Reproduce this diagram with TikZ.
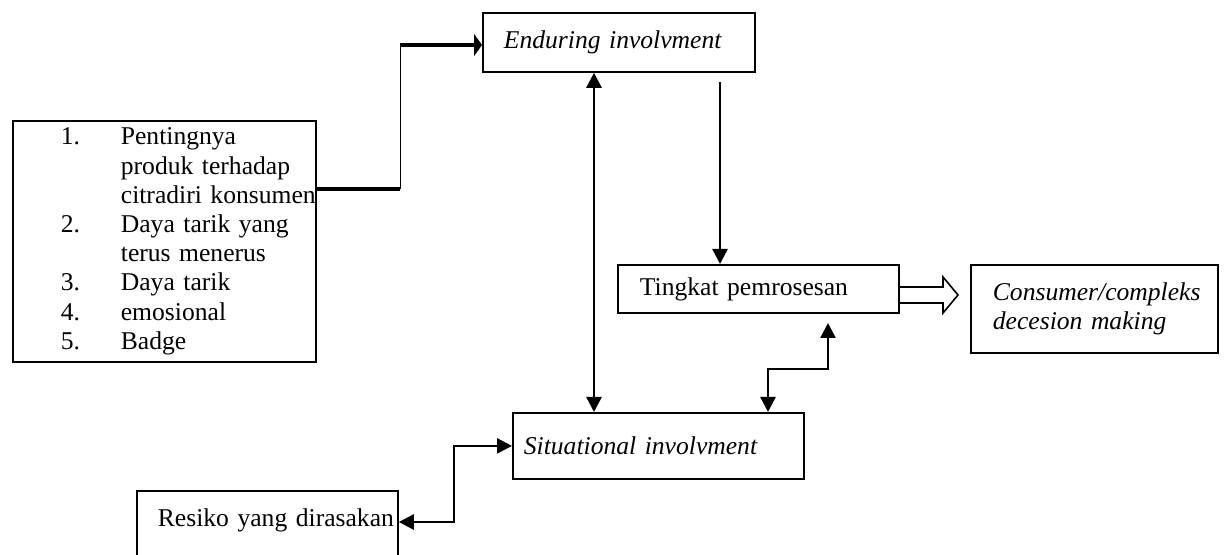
\documentclass[tikz,border=0pt]{standalone}
\usepackage{fontspec}
\setmainfont{Liberation Serif}
\usetikzlibrary{arrows.meta}
\newcommand{\boxfont}{\fontsize{12.8pt}{14.6pt}\selectfont}
\newcommand{\listno}[1]{\hspace*{24pt}\makebox[30pt][l]{#1}}

\begin{document}
\begin{tikzpicture}[x=0.5pt,y=-0.5pt,
	>={Triangle[length=7.5pt,width=7.5pt]},
	box/.style={draw, line width=0.9pt, anchor=north west, align=left, font=\boxfont},
	ibox/.style={box, font=\boxfont\itshape},
	arr/.style={line width=1.2pt}]
	\useasboundingbox (0,0) rectangle (1231,555);
	\node[box, text width=151.5pt, minimum height=120.5pt, inner xsep=0pt, inner ysep=3.5pt] (Faktor) at (12,120)
		{\listno{1.}Pentingnya\\ \listno{}produk terhadap\\ \listno{}citradiri konsumen\\
		 \listno{2.}Daya tarik yang\\ \listno{}terus menerus\\ \listno{3.}Daya tarik\\
		 \listno{4.}emosional\\ \listno{5.}Badge};
	\node[ibox, text width=115pt, minimum height=29.5pt, inner xsep=10.5pt] (Endur) at (482,12) {\mbox{Enduring involvment}};
	\node[box, text width=118.5pt, minimum height=24pt, inner xsep=11pt] (Tingkat) at (617,264) {\mbox{Tingkat pemrosesan}};
	\node[ibox, text width=101.5pt, minimum height=44pt, inner xsep=11pt] (Consumer) at (970,264) {\mbox{Consumer/compleks}\\\mbox{decesion making}};
	\node[ibox, text width=134.5pt, minimum height=33pt, inner xsep=5.5pt] (Situ) at (512,412) {\mbox{Situational involvment}};
	\node[box, text width=109.5pt, inner xsep=10.5pt, inner ysep=8.75pt, text depth=30pt] (Resiko) at (136,490) {\mbox{Resiko yang dirasakan}};

	\coordinate (bendA) at (400,189);
	\coordinate (bendB) at (400,45);
	\draw [line width=2pt] (bendA -| Faktor.east) -- (bendA);
	\draw [line width=0.5pt] (bendA) -- (bendB);
	\draw [line width=2pt, -{Triangle[length=4pt,width=11pt]}] (bendB) -- (bendB -| Endur.west);

	\coordinate (vLine) at (594,0);
	\draw [arr, <->] (vLine |- Endur.south) -- (vLine |- Situ.north);
	\coordinate (dTop) at (720,82);
	\draw [arr, ->] (dTop) -- (dTop |- Tingkat.north);

	\draw [line width=0.8pt] (Tingkat.east |- 0,287) -- (943,287) -- (943,277) -- (958,295)
		-- (943,313) -- (943,303) -- (Tingkat.east |- 0,303);

	\coordinate (sTip) at (828,323);
	\coordinate (sStep) at (768,369);
	\draw [arr, <->] (sTip) |- (sStep) -- (sStep |- Situ.north);
	\coordinate (rStep) at (454,522);
	\draw [arr, <->] (rStep -| Resiko.east) -- (rStep) |- (Situ.west);
\end{tikzpicture}
\end{document}
